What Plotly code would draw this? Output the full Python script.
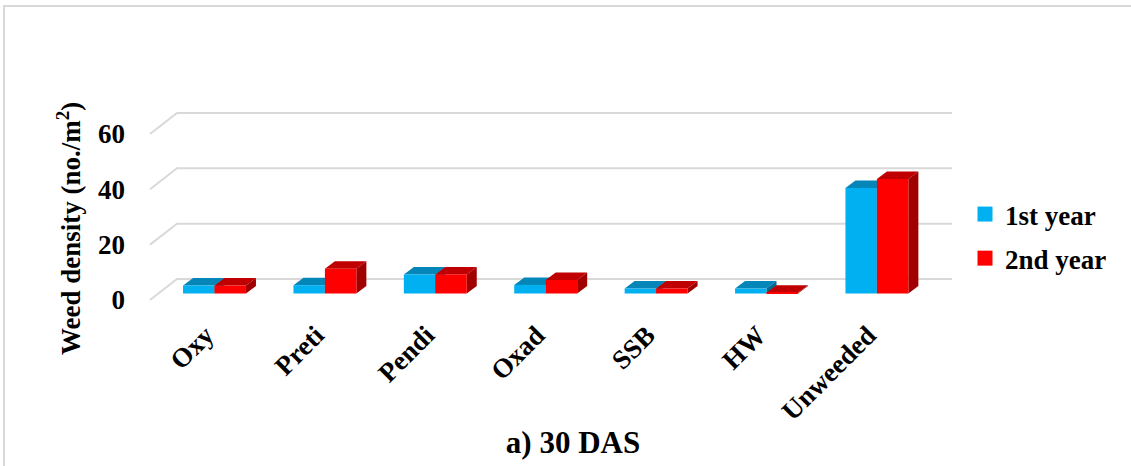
import plotly.graph_objects as go

# ---- data -------------------------------------------------------------
categories = ["Oxy", "Preti", "Pendi", "Oxad", "SSB", "HW", "Unweeded"]
first_year = [2.9, 3.0, 6.9, 3.1, 1.8, 1.8, 38.1]
second_year = [2.9, 8.9, 6.9, 4.9, 1.8, 0.3, 41.4]
series_names = ["1st year", "2nd year"]
y_ticks = [0, 20, 40, 60]

# ---- styling ----------------------------------------------------------
FRONT = ["#00B0F0", "#FF0000"]
TOP = ["#0487B8", "#C00000"]
SIDE = ["#036A90", "#A00000"]
GRID = "#D9D9D9"
FONT = "Liberation Serif, Times New Roman, serif"

W, H = 1131, 466
ML, MR, MT, MB = 140, 171, 100, 161
PX_X = 110.4          # pixels per category step
PX_Y = 2.767          # pixels per value unit
ORIGIN_PX = (214.5, 293.5)   # pixel of (first category, 0) on the bar front plane

plot_w = W - ML - MR
plot_h = H - MT - MB
x0 = -(ORIGIN_PX[0] - ML) / PX_X
x1 = x0 + plot_w / PX_X
y0 = -((H - MB) - ORIGIN_PX[1]) / PX_Y
y1 = y0 + plot_h / PX_Y

BAR_W = 0.285
# oblique depth of a bar (in axis units)
DX = 10 / PX_X
DY = 7.5 / PX_Y
# floor / back wall offsets relative to the bar front plane
FLOOR_DX = -8.8 / PX_X
FLOOR_X = x0 + 10 / PX_X
FLOOR_DY = -6.5 / PX_Y
WALL_X = FLOOR_X + 27 / PX_X
WALL_DY = 14.5 / PX_Y
WALL_X_END = (952 - ORIGIN_PX[0]) / PX_X


def poly(points):
    return "M " + " L ".join(f"{x},{y}" for x, y in points) + " Z"


shapes = []

# back wall gridlines with their oblique floor segment
for v in y_ticks:
    shapes.append(dict(
        type="path", xref="x", yref="y", layer="below",
        path=f"M {FLOOR_X},{v + FLOOR_DY} L {WALL_X},{v + WALL_DY} L {WALL_X_END},{v + WALL_DY}",
        line=dict(color=GRID, width=2),
    ))

# top and right faces of each column
series = [first_year, second_year]
offsets = [-BAR_W, 0.0]
for i in range(len(categories)):
    for s, vals in enumerate(series):
        v = vals[i]
        xl = i + offsets[s]
        xr = xl + BAR_W
        shapes.append(dict(
            type="path", xref="x", yref="y", layer="below",
            path=poly([(xl, v), (xr, v), (xr + DX, v + DY), (xl + DX, v + DY)]),
            fillcolor=TOP[s], line=dict(width=0),
        ))
        shapes.append(dict(
            type="path", xref="x", yref="y", layer="below",
            path=poly([(xr, 0), (xr, v), (xr + DX, v + DY), (xr + DX, DY)]),
            fillcolor=SIDE[s], line=dict(width=0),
        ))

# chart frame
shapes.append(dict(
    type="path", xref="paper", yref="paper", layer="below",
    path=f"M {(4 - ML) / plot_w},{(MB - 0) / -plot_h} "
         f"L {(4 - ML) / plot_w},{(H - MB - 6) / plot_h} "
         f"L {(W - ML) / plot_w},{(H - MB - 6) / plot_h}",
    line=dict(color=GRID, width=2),
))

fig = go.Figure()
for s, vals in enumerate(series):
    fig.add_trace(go.Bar(
        x=list(range(len(categories))), y=vals,
        width=BAR_W, offset=offsets[s],
        marker=dict(color=FRONT[s], line=dict(width=0)),
        name=series_names[s], showlegend=False,
    ))
    fig.add_trace(go.Scatter(
        x=[None], y=[None], mode="markers", name=series_names[s],
        legendgroup=series_names[s],
        marker=dict(symbol="square", size=15, color=FRONT[s]),
    ))

fig.update_layout(
    width=W, height=H,
    margin=dict(l=ML, r=MR, t=MT, b=MB, autoexpand=False),
    paper_bgcolor="white", plot_bgcolor="white",
    barmode="overlay",
    shapes=shapes,
    font=dict(family=FONT, size=26, color="black", weight="bold"),
    xaxis=dict(
        range=[x0, x1], showgrid=False, zeroline=False, showline=False,
        tickmode="array",
        tickvals=[i + FLOOR_DX for i in range(len(categories))], ticktext=categories,
        tickangle=-45, ticks="", ticklabelstandoff=8, automargin=False,
        tickfont=dict(size=27, family=FONT, weight="bold"),
    ),
    yaxis=dict(
        range=[y0, y1], showgrid=False, zeroline=False, showline=False,
        tickmode="array", tickvals=[v + FLOOR_DY for v in y_ticks],
        ticktext=[str(v) for v in y_ticks], ticks="", ticklabelstandoff=14,
        automargin=False, tickfont=dict(size=27, family=FONT, weight="bold"),
    ),
    legend=dict(
        x=(965 - ML) / plot_w, y=(H - MB - 190) / plot_h, xanchor="left", yanchor="top",
        font=dict(size=27, family=FONT, weight="bold"), tracegroupgap=6,
        bgcolor="rgba(0,0,0,0)",
    ),
    title=dict(
        text="a) 30 DAS", x=573 / W, y=1 - 442 / H, xanchor="center", yanchor="middle",
        font=dict(size=31, family=FONT, weight="bold"),
    ),
    annotations=[dict(
        text="Weed density (no./m<sup>2</sup>)", textangle=-90,
        xref="paper", yref="paper", showarrow=False,
        x=(69 - ML) / plot_w, y=(H - MB - 229) / plot_h,
        xanchor="center", yanchor="middle",
        font=dict(size=27, family=FONT, weight="bold"),
    )],
)

fig.write_html("out.html")
